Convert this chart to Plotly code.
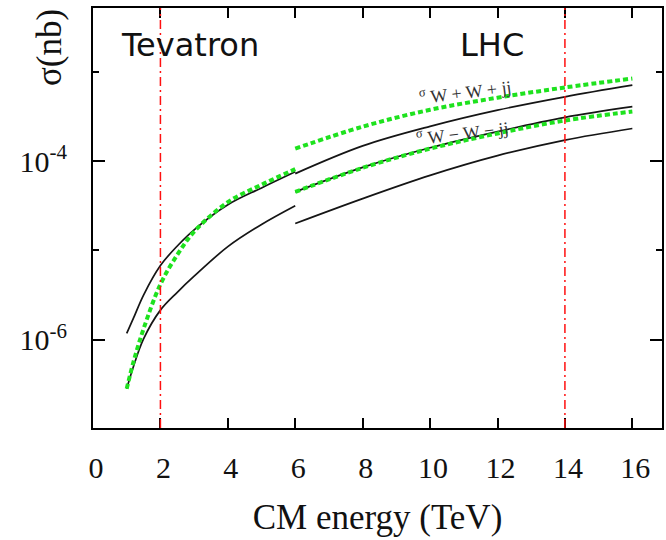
import plotly.graph_objects as go

# ---------------- data (cross sections in nb) ----------------
tev_energy = [1.0, 1.2, 1.5, 2.0, 2.5, 3.0, 4.0, 5.0, 6.0]
tev_black_upper = [1.175e-6, 1.74e-6, 3.16e-6, 6.76e-6, 1.12e-5, 1.70e-5, 3.24e-5, 5.01e-5, 7.59e-5]
tev_green = [2.82e-7, 5.62e-7, 1.32e-6, 4.17e-6, 8.91e-6, 1.62e-5, 3.47e-5, 5.43e-5, 8.13e-5]
tev_black_lower = [2.82e-7, 5.01e-7, 1.02e-6, 2.14e-6, 3.39e-6, 5.13e-6, 1.10e-5, 1.95e-5, 3.16e-5]

lhc_energy = [6, 8, 10, 12, 14, 16]
lhc_green_wpwp = [1.38e-4, 2.43e-4, 3.76e-4, 5.13e-4, 6.68e-4, 8.41e-4]
lhc_black_wpwp = [7.24e-5, 1.48e-4, 2.45e-4, 3.72e-4, 5.25e-4, 7.08e-4]
lhc_black_wmwm_upper = [4.52e-5, 8.51e-5, 1.41e-4, 2.14e-4, 3.09e-4, 4.07e-4]
lhc_green_wmwm = [4.52e-5, 8.41e-5, 1.38e-4, 2.04e-4, 2.85e-4, 3.59e-4]
lhc_black_wmwm_lower = [2.0e-5, 3.80e-5, 6.92e-5, 1.15e-4, 1.72e-4, 2.32e-4]

collider_energies = [2, 14]
collider_names = ["Tevatron", "LHC"]

x_ticks = [0, 2, 4, 6, 8, 10, 12, 14, 16]
y_major = [1e-6, 1e-4]
y_major_text = ["10<sup>-6</sup>", "10<sup>-4</sup>"]
y_minor = [1e-5, 1e-3]

# ---------------- styles ----------------
BLACK = "#151515"
GREEN = "#1ee21e"
black_line = dict(color=BLACK, width=1.7, shape="spline")
green_line = dict(color=GREEN, width=4, dash="5px,3px", shape="spline")

fig = go.Figure()

for ys in [tev_black_upper, tev_black_lower]:
    fig.add_trace(go.Scatter(x=tev_energy, y=ys, mode="lines", line=black_line, showlegend=False))
for ys in [lhc_black_wpwp, lhc_black_wmwm_upper, lhc_black_wmwm_lower]:
    fig.add_trace(go.Scatter(x=lhc_energy, y=ys, mode="lines", line=black_line, showlegend=False))
fig.add_trace(go.Scatter(x=tev_energy, y=tev_green, mode="lines", line=green_line, showlegend=False))
for ys in [lhc_green_wpwp, lhc_green_wmwm]:
    fig.add_trace(go.Scatter(x=lhc_energy, y=ys, mode="lines", line=green_line, showlegend=False))

for e in collider_energies:
    fig.add_vline(x=e, line=dict(color="#ff1010", width=1.5, dash="9px,4px,2px,4px"))

# collider names
name_pos = [(0.170, 0.912), (0.702, 0.912)]
for name, (px, py) in zip(collider_names, name_pos):
    fig.add_annotation(text=name, xref="paper", yref="paper", x=px, y=py,
                       showarrow=False, xanchor="center", yanchor="middle",
                       font=dict(family="DejaVu Sans", size=32, color="#111"))

# curve labels
fig.add_annotation(text="<sup>σ</sup> W + W + jj", xref="paper", yref="paper",
                   x=0.655, y=0.800, showarrow=False, textangle=-7,
                   xanchor="center", yanchor="middle",
                   font=dict(family="Liberation Serif", size=18, color="#333"))
fig.add_annotation(text="<sup>σ</sup> W − W − jj", xref="paper", yref="paper",
                   x=0.650, y=0.704, showarrow=False, textangle=-7,
                   xanchor="center", yanchor="middle",
                   font=dict(family="Liberation Serif", size=18, color="#333"))

# y title
fig.add_annotation(text="σ(nb)", xref="paper", yref="paper", x=-0.0753, y=0.905,
                   showarrow=False, textangle=-90, xanchor="center", yanchor="middle",
                   font=dict(family="Liberation Serif", size=35, color="#111"))

fig.update_layout(
    width=666, height=540,
    margin=dict(l=93, r=2, t=8, b=112),
    paper_bgcolor="white", plot_bgcolor="white",
    showlegend=False,
    xaxis=dict(
        range=[0, 16.88], showgrid=False, zeroline=False,
        showline=True, linewidth=2, linecolor="black", mirror="allticks",
        ticks="inside", ticklen=10, tickwidth=1.5, tickcolor="black",
        tickmode="array", tickvals=x_ticks, ticklabelstandoff=12,
        ticklabelshift=3,
        tickfont=dict(family="Liberation Serif", size=30, color="#111"),
        title=dict(text="CM energy (TeV)", standoff=21,
                   font=dict(family="Liberation Serif", size=35, color="#111")),
    ),
    yaxis=dict(
        type="log", range=[-6.99, -2.285], showgrid=False, zeroline=False,
        showline=True, linewidth=2, linecolor="black", mirror="allticks",
        ticks="inside", ticklen=12, tickwidth=1.5, tickcolor="black",
        tickmode="array", tickvals=y_major, ticktext=y_major_text,
        ticklabelstandoff=18,
        tickfont=dict(family="Liberation Serif", size=30, color="#111"),
        minor=dict(tickmode="array", tickvals=y_minor, ticks="inside",
                   ticklen=6, tickwidth=1.5, tickcolor="black"),
    ),
)

fig.write_html("out.html")
